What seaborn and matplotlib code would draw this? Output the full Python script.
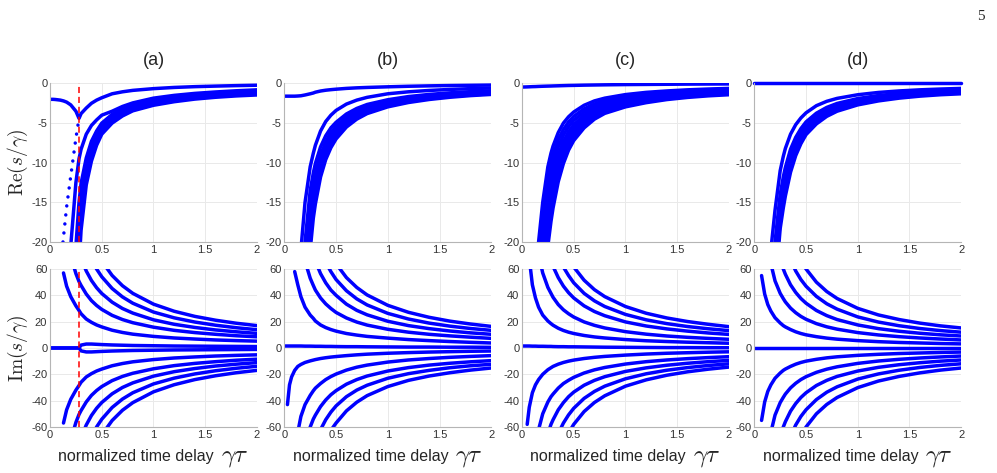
import numpy as np
import pandas as pd
import matplotlib
matplotlib.use("Agg")
import matplotlib.pyplot as plt
import seaborn as sns
from matplotlib.offsetbox import TextArea, HPacker, AnchoredOffsetbox

# common delay grid; every branch list below ends at tau = 2 and starts
# where the branch enters the view (so a short list starts late)
tau = [0, 0.03, 0.05, 0.07, 0.1, 0.13, 0.16, 0.2, 0.25, 0.28, 0.3, 0.35,
       0.4, 0.45, 0.5, 0.6, 0.7, 0.8, 1.0, 1.2, 1.4, 1.6, 1.8, 2.0]

panel_names = ["(a)", "(b)", "(c)", "(d)"]
x_ticks = [0, 0.5, 1, 1.5, 2]
x_tick_labels = ["0", "0.5", "1", "1.5", "2"]
re_ticks = [-20, -15, -10, -5, 0]
im_ticks = [-60, -40, -20, 0, 20, 40, 60]
tau_crit = 0.278

# ---------------- panel (a) ----------------
re_a = [
    [-2.0, -2.0, -2.02, -2.05, -2.1, -2.2, -2.35, -2.7, -3.5, -4.4, -3.8, -3.1,
     -2.5, -2.1, -1.8, -1.3, -1.05, -0.87, -0.65, -0.5, -0.4, -0.33, -0.27, -0.22],
    [-20.5, -12.5, -9.5, -8.3, -6.4, -5.3, -4.6, -4.0, -3.5, -2.9, -2.45, -1.85, -1.5, -1.25, -1.07, -0.92, -0.8],
    [-20.5, -15, -12.6, -9.4, -7.3, -6.0, -5.0, -3.9, -3.2, -2.7, -2.1, -1.75, -1.5, -1.32, -1.18, -1.06],
    [-23, -17, -14, -10.3, -8.0, -6.5, -5.4, -4.2, -3.45, -2.9, -2.25, -1.88, -1.6, -1.41, -1.26, -1.14],
    [-26, -19, -15.5, -11.2, -8.6, -7.0, -5.8, -4.5, -3.7, -3.1, -2.4, -2.0, -1.7, -1.5, -1.34, -1.22],
    [-29, -21, -17, -12, -9.2, -7.4, -6.1, -4.75, -3.9, -3.3, -2.6, -2.15, -1.85, -1.63, -1.47, -1.34],
    [-23, -18.5, -12.8, -9.8, -7.8, -6.4, -5.0, -4.1, -3.45, -2.75, -2.3, -1.97, -1.74, -1.57, -1.45],
]
re_a_real_tau = [0.125, 0.16, 0.2, 0.25, 0.28]
re_a_real_val = [-20, -15.6, -11.7, -6.9, -4.4]

im_a_pair = [
    [0, 0, 0, 0, 0, 0, 0, 0, 0, 0, 2.2, 3.0, 3.0, 2.8, 2.6, 2.3, 2.1, 1.9, 1.7, 1.5, 1.4, 1.3, 1.2, 1.1],
    [0, 0, 0, 0, 0, 0, 0, 0, 0, 0, -2.2, -3.0, -3.0, -2.8, -2.6, -2.3, -2.1, -1.9, -1.7, -1.5, -1.4, -1.3, -1.2, -1.1],
]
im_a_upper = [
    [57, 47, 39, 32, 28.5, 26, 22, 19.5, 17.5, 16, 13.5, 11.8, 10.5, 8.8, 7.6, 6.8, 6.1, 5.6, 5.2],
    [70, 56.5, 50.5, 47.5, 41, 36, 32.3, 29.3, 24.8, 21.6, 19.2, 15.8, 13.4, 11.7, 10.4, 9.3, 8.5],
    [73, 68, 58.5, 51.3, 45.8, 41.4, 34.8, 30, 26.5, 21.4, 18, 15.6, 13.7, 12.3, 11.1],
    [67.5, 60, 54.1, 45.2, 38.8, 34, 27.3, 22.9, 19.7, 17.3, 15.4, 13.9],
    [66, 55.1, 47.3, 41.5, 33.3, 27.9, 24, 21.1, 18.8, 17],
]
im_a_lower = [
    [-57, -47, -39, -32, -28.5, -26, -22, -19.5, -17.5, -16, -13.5, -11.8, -10.5, -8.8, -7.6, -6.8, -6.1, -5.6, -5.2],
    [-70, -56.5, -50.5, -47.5, -41, -36, -32.3, -29.3, -24.8, -21.6, -19.2, -15.8, -13.4, -11.7, -10.4, -9.3, -8.5],
    [-73, -68, -58.5, -51.3, -45.8, -41.4, -34.8, -30, -26.5, -21.4, -18, -15.6, -13.7, -12.3, -11.1],
    [-67.5, -60, -54.1, -45.2, -38.8, -34, -27.3, -22.9, -19.7, -17.3, -15.4, -13.9],
    [-66, -55.1, -47.3, -41.5, -33.3, -27.9, -24, -21.1, -18.8, -17],
]

# ---------------- panel (b) ----------------
re_b = [
    [-1.6, -1.6, -1.6, -1.6, -1.6, -1.58, -1.55, -1.45, -1.3, -1.2, -1.1, -0.95,
     -0.85, -0.78, -0.72, -0.62, -0.55, -0.5, -0.42, -0.35, -0.3, -0.26, -0.23, -0.2],
    [-21, -15, -10.5, -8.8, -7.8, -6.0, -4.8, -4.0, -3.4, -2.6, -2.1, -1.75, -1.3, -1.05, -0.88, -0.75, -0.65, -0.57],
    [-20, -13.5, -11.3, -10.1, -8.0, -6.6, -5.6, -4.9, -3.85, -3.15, -2.65, -2.05, -1.65, -1.38, -1.18, -1.03, -0.92],
    [-22, -15.2, -12.8, -11.4, -9.0, -7.4, -6.2, -5.4, -4.25, -3.45, -2.9, -2.25, -1.82, -1.52, -1.3, -1.14, -1.02],
    [-24, -16.7, -14, -12.5, -9.8, -8.0, -6.75, -5.85, -4.6, -3.75, -3.15, -2.45, -1.98, -1.66, -1.42, -1.25, -1.12],
    [-26, -18, -15, -13.4, -10.5, -8.6, -7.25, -6.25, -4.9, -4.0, -3.38, -2.62, -2.12, -1.78, -1.53, -1.35, -1.21],
    [-28, -19.5, -16, -14.3, -11.2, -9.1, -7.7, -6.65, -5.2, -4.25, -3.6, -2.8, -2.26, -1.9, -1.63, -1.44, -1.3],
    [-21, -17, -15.2, -11.8, -9.6, -8.1, -7.0, -5.5, -4.5, -3.8, -2.95, -2.4, -2.02, -1.74, -1.53, -1.38],
]
im_b_center = [1.5, 1.5, 1.5, 1.5, 1.5, 1.5, 1.5, 1.4, 1.4, 1.35, 1.3, 1.3,
               1.2, 1.2, 1.1, 1.0, 1.0, 0.9, 0.8, 0.7, 0.7, 0.6, 0.6, 0.5]
im_b_upper = [
    [58, 48, 39, 31, 25, 22.5, 20.5, 17.5, 15.5, 14, 12.8, 11, 9.8, 8.8, 7.5, 6.4, 5.6, 4.9, 4.3, 3.8],
    [66, 53, 47.5, 44, 38, 33.5, 30, 27, 22.8, 19.7, 17.4, 14.2, 12, 10.4, 9.2, 8.2, 7.3],
    [66, 56.5, 49.5, 44, 40, 33.3, 28.6, 25.2, 20.3, 17, 14.7, 12.9, 11.5, 10.4],
    [65, 58, 52, 43.5, 37.3, 32.7, 26.3, 22, 18.9, 16.6, 14.8, 13.4],
    [64, 53.5, 46, 40.3, 32.4, 27.1, 23.3, 20.4, 18.2, 16.4],
]
im_b_lower = [
    [-43, -28, -22, -17, -14, -12.5, -11, -9.8, -9.2, -8.8, -8, -7.4, -6.9, -6.5, -5.8, -5.2, -4.7, -4.0, -3.5, -3.1, -2.8, -2.5, -2.3],
    [-64, -52, -43, -36, -32.5, -30.5, -27, -24, -21.7, -19.8, -16.8, -14.6, -13, -10.7, -9.1, -8, -7.1, -6.4, -5.8],
    [-76, -60, -54, -51, -44.5, -39.5, -35.5, -32.4, -27.5, -24, -21.3, -17.5, -14.9, -13, -11.6, -10.5, -9.6],
    [-72, -62, -54.5, -48.7, -44, -37, -32, -28.3, -23, -19.5, -17, -15, -13.5, -12.4],
    [-70, -62.5, -57, -47.8, -41.2, -36.2, -29.3, -24.6, -21.3, -18.8, -16.8, -15.2],
]

# ---------------- panel (c) ----------------
re_c = [
    [-0.45, -0.44, -0.43, -0.42, -0.4, -0.39, -0.37, -0.35, -0.33, -0.32, -0.31, -0.29,
     -0.27, -0.25, -0.24, -0.21, -0.19, -0.17, -0.14, -0.12, -0.1, -0.08, -0.07, -0.06],
    [-20, -15, -10.5, -8.8, -7.9, -6.2, -5.0, -4.2, -3.6, -2.75, -2.2, -1.85, -1.4, -1.12, -0.94, -0.8, -0.7, -0.62],
    [-22, -16.5, -11.8, -10, -9.0, -7.1, -5.8, -4.85, -4.15, -3.2, -2.58, -2.15, -1.63, -1.3, -1.08, -0.92, -0.8, -0.71],
    [-25, -18.5, -13.2, -11.2, -10.1, -8.0, -6.5, -5.45, -4.65, -3.6, -2.9, -2.42, -1.83, -1.46, -1.21, -1.03, -0.9, -0.8],
    [-20.5, -14.8, -12.6, -11.4, -9.0, -7.3, -6.1, -5.2, -4.0, -3.25, -2.72, -2.06, -1.65, -1.37, -1.17, -1.02, -0.91],
    [-22.5, -16.2, -13.8, -12.5, -9.9, -8.0, -6.7, -5.7, -4.4, -3.55, -2.98, -2.26, -1.81, -1.5, -1.28, -1.12, -1.0],
    [-24.5, -17.6, -15, -13.5, -10.7, -8.7, -7.25, -6.2, -4.8, -3.88, -3.25, -2.47, -1.98, -1.64, -1.4, -1.23, -1.1],
    [-26, -19, -16.2, -14.6, -11.5, -9.4, -7.8, -6.7, -5.2, -4.2, -3.5, -2.67, -2.14, -1.78, -1.52, -1.33, -1.19],
    [-28, -20.5, -17.4, -15.7, -12.4, -10.1, -8.4, -7.2, -5.6, -4.5, -3.77, -2.95, -2.42, -2.03, -1.76, -1.56, -1.42],
]
im_c_center = [1.5, 1.5, 1.5, 1.5, 1.4, 1.4, 1.3, 1.3, 1.2, 1.2, 1.1, 1.0,
               1.0, 0.9, 0.9, 0.8, 0.7, 0.6, 0.5, 0.4, 0.3, 0.3, 0.2, 0.2]
im_c_upper = [
    [68, 48, 38, 31, 25, 20.5, 18.5, 17.3, 15, 13.3, 12, 11, 9.5, 8.4, 7.6, 6.4, 5.5, 4.9, 4.4, 4.0, 3.6],
    [71, 57, 46, 41.5, 38.5, 33, 29, 26, 23.5, 19.8, 17.2, 15.2, 12.4, 10.5, 9.1, 8.1, 7.3, 6.6],
    [75, 66.5, 62, 53.5, 47, 42, 38, 32, 27.7, 24.5, 19.8, 16.7, 14.5, 12.8, 11.4, 10.3],
    [70, 61.5, 55, 49.5, 41.5, 35.8, 31.5, 25.5, 21.4, 18.5, 16.3, 14.6, 13.2],
    [68, 61.5, 51.5, 44.3, 39, 31.5, 26.4, 22.8, 20.1, 18, 16.2],
]
im_c_lower = [
    [-58, -45, -34, -28, -24, -20, -16.5, -15, -14, -12.3, -11, -10, -9.2, -8, -7.1, -6.4, -5.4, -4.6, -4.0, -3.6, -3.2, -2.9],
    [-62, -50, -41, -37, -35, -30.5, -27, -24.5, -22.3, -19, -16.6, -14.8, -12.2, -10.4, -9.1, -8.1, -7.3, -6.6],
    [-65, -58, -54.5, -47, -41.5, -37, -33.5, -28.3, -24.6, -21.8, -17.8, -15.1, -13.1, -11.6, -10.4, -9.4],
    [-65, -57, -50.8, -45.8, -38.3, -33, -29, -23.4, -19.6, -16.9, -14.9, -13.3, -12],
    [-64.5, -58, -48.3, -41.4, -36.3, -29, -24.2, -20.7, -18.1, -16.1, -14.5],
]

# ---------------- panel (d) ----------------
re_d = [
    [0, 0, 0, 0, 0, 0, 0, 0, 0, 0, 0, 0, 0, 0, 0, 0, 0, 0, 0, 0, 0, 0, 0, 0],
    [-21, -16, -11, -9.2, -8.2, -6.4, -5.2, -4.35, -3.7, -2.8, -2.25, -1.88, -1.42, -1.13, -0.94, -0.8, -0.7, -0.62],
    [-26, -20, -14, -11.8, -10.6, -8.3, -6.8, -5.7, -4.85, -3.75, -3.02, -2.52, -1.9, -1.52, -1.26, -1.07, -0.93, -0.83],
    [-21.5, -15.3, -13, -11.7, -9.2, -7.5, -6.3, -5.35, -4.12, -3.32, -2.77, -2.08, -1.66, -1.37, -1.17, -1.02, -0.91],
    [-23, -16.4, -14, -12.6, -9.9, -8.1, -6.8, -5.75, -4.43, -3.57, -2.98, -2.24, -1.79, -1.48, -1.26, -1.1, -0.98],
    [-24.5, -17.4, -14.9, -13.4, -10.6, -8.6, -7.2, -6.1, -4.7, -3.79, -3.16, -2.38, -1.9, -1.57, -1.34, -1.17, -1.04],
    [-26, -18.3, -15.7, -14.2, -11.2, -9.1, -7.6, -6.45, -5.1, -4.15, -3.5, -2.7, -2.2, -1.85, -1.6, -1.42, -1.3],
]
im_d_center = [0, 0, 0, 0, 0, 0, 0, 0, 0, 0, 0, 0, 0, 0, 0, 0, 0, 0, 0, 0, 0, 0, 0, 0]
im_d_upper = [
    [55, 41, 33, 28, 23, 19, 17, 16, 14, 12.3, 11, 10, 8.6, 7.5, 6.7, 5.6, 4.8, 4.2, 3.8, 3.4, 3.1],
    [64, 51, 41.5, 37.5, 35, 30.3, 26.8, 24, 21.8, 18.5, 16.1, 14.3, 11.7, 9.9, 8.6, 7.6, 6.8, 6.1],
    [67, 60, 56, 48, 42.2, 37.6, 34, 28.5, 24.6, 21.6, 17.5, 14.7, 12.7, 11.2, 10, 9.1],
    [67, 58.5, 52, 46.9, 39.2, 33.6, 29.5, 23.6, 19.7, 16.9, 14.8, 13.2, 12],
    [66.7, 60, 50, 42.9, 37.6, 30.1, 25.1, 21.6, 18.9, 16.8, 15.2],
]
im_d_lower = [
    [-55, -41, -33, -28, -23, -19, -17, -16, -14, -12.3, -11, -10, -8.6, -7.5, -6.7, -5.6, -4.8, -4.2, -3.8, -3.4, -3.1],
    [-64, -51, -41.5, -37.5, -35, -30.3, -26.8, -24, -21.8, -18.5, -16.1, -14.3, -11.7, -9.9, -8.6, -7.6, -6.8, -6.1],
    [-67, -60, -56, -48, -42.2, -37.6, -34, -28.5, -24.6, -21.6, -17.5, -14.7, -12.7, -11.2, -10, -9.1],
    [-67, -58.5, -52, -46.9, -39.2, -33.6, -29.5, -23.6, -19.7, -16.9, -14.8, -13.2, -12],
    [-66.7, -60, -50, -42.9, -37.6, -30.1, -25.1, -21.6, -18.9, -16.8, -15.2],
]

re_panels = [re_a, re_b, re_c, re_d]
im_panels = [
    im_a_pair + im_a_upper + im_a_lower,
    [im_b_center] + im_b_upper + im_b_lower,
    [im_c_center] + im_c_upper + im_c_lower,
    [im_d_center] + im_d_upper + im_d_lower,
]


def branches_frame(curves):
    rows = []
    for k, vals in enumerate(curves):
        xs = tau[len(tau) - len(vals):]
        for x, y in zip(xs, vals):
            rows.append((k, x, y))
    return pd.DataFrame(rows, columns=["branch", "tau", "value"])


sns.set_style("white")
plt.rcParams["font.family"] = ["Liberation Sans", "DejaVu Sans"]
plt.rcParams["mathtext.fontset"] = "cm"
plt.rcParams["axes.unicode_minus"] = False

BLUE = "#0000ff"
LW = 2.5

fig = plt.figure(figsize=(9.97, 4.73), dpi=100)
lefts = [0.0502, 0.2852, 0.5236, 0.7566]
width = 0.2075


def style_axes(ax, yticks):
    ax.set_xlim(0, 2)
    ax.set_xticks(x_ticks)
    ax.set_xticklabels(x_tick_labels)
    ax.set_yticks(yticks)
    ax.set_yticklabels([str(t) for t in yticks])
    ax.grid(True, color="#e9e9e9", lw=0.7)
    ax.set_axisbelow(True)
    for s in ["top", "right"]:
        ax.spines[s].set_visible(False)
    for s in ["left", "bottom"]:
        ax.spines[s].set_color("#b5b5b5")
        ax.spines[s].set_linewidth(0.8)
    ax.tick_params(labelsize=8, colors="#333333", length=2, direction="in", pad=2)
    ax.set_xlabel("")
    ax.set_ylabel("")


for i in range(4):
    # real parts
    ax = fig.add_axes([lefts[i], 0.4884, width, 0.3351])
    sns.lineplot(data=branches_frame(re_panels[i]), x="tau", y="value", units="branch",
                 estimator=None, sort=False, color=BLUE, lw=LW, ax=ax, legend=False)
    if i == 0:
        sns.lineplot(x=re_a_real_tau, y=re_a_real_val, ax=ax, color=BLUE, lw=LW,
                     linestyle=(0, (0.01, 2.6)), dash_capstyle="round")
        ax.axvline(tau_crit, color="#ff0000", ls=(0, (4, 2.5)), lw=1.1, zorder=5)
    if i == 3:
        ax.lines[0].set_clip_on(False)
    ax.set_ylim(-20, 0)
    style_axes(ax, re_ticks)
    fig.text(lefts[i] + width / 2, 0.873, panel_names[i], ha="center", va="center", size=13)

    # imaginary parts
    ax = fig.add_axes([lefts[i], 0.0973, width, 0.334])
    sns.lineplot(data=branches_frame(im_panels[i]), x="tau", y="value", units="branch",
                 estimator=None, sort=False, color=BLUE, lw=LW, ax=ax, legend=False)
    if i == 0:
        ax.axvline(tau_crit, color="#ff0000", ls=(0, (4, 2.5)), lw=1.1, zorder=5)
    ax.set_ylim(-60, 60)
    style_axes(ax, im_ticks)

    label = HPacker(children=[TextArea("normalized time delay", textprops=dict(size=11.5)),
                              TextArea(r"$\gamma\tau$", textprops=dict(size=18))],
                    align="baseline", pad=0, sep=5)
    ab = AnchoredOffsetbox(loc="center", child=label, pad=0, borderpad=0, frameon=False,
                           bbox_to_anchor=(0.5, -0.18), bbox_transform=ax.transAxes)
    ax.add_artist(ab)

fig.text(0.018, 0.656, r"$\mathrm{Re}(s/\gamma)$", rotation=90, ha="center", va="center", size=14)
fig.text(0.018, 0.264, r"$\mathrm{Im}(s/\gamma)$", rotation=90, ha="center", va="center", size=14)
fig.text(0.988, 0.965, "5", ha="right", va="center", size=11, family="Liberation Serif")

fig.savefig("out.png", dpi=100)
